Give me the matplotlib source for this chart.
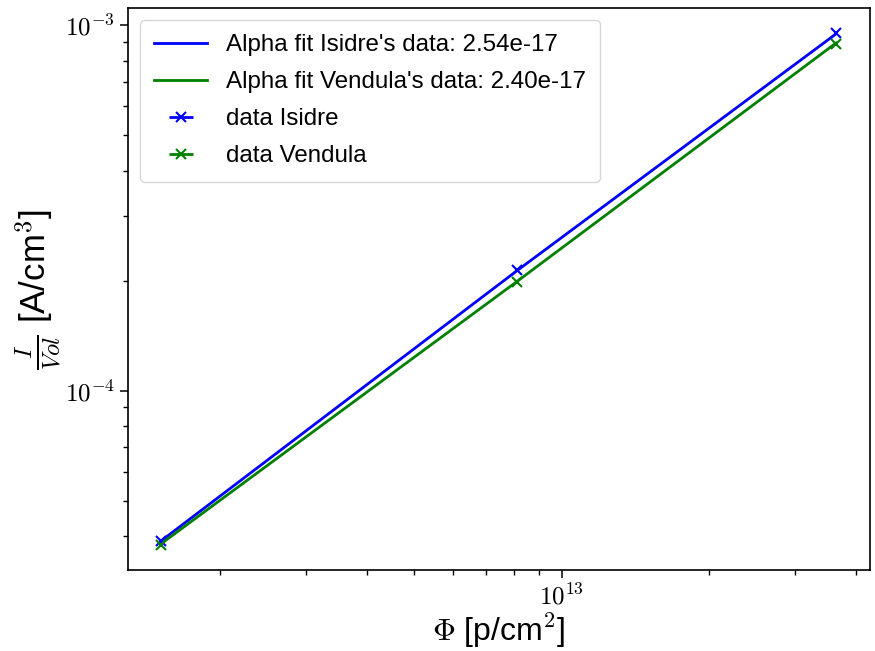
import matplotlib
matplotlib.use("Agg")
import matplotlib.pyplot as plt
from matplotlib.ticker import FuncFormatter, NullFormatter
import numpy as np

# Data
fluence = [1.52e12, 8.1e12, 3.64e13]
data_isidre = [3.89e-5, 2.14e-4, 9.51e-4]
data_vendula = [3.79e-5, 1.98e-4, 8.92e-4]
fit_isidre = [3.89e-5, 2.13e-4, 9.48e-4]
fit_vendula = [3.82e-5, 1.99e-4, 8.95e-4]
alpha_isidre = "2.54e-17"
alpha_vendula = "2.40e-17"

plt.rcParams['font.family'] = ['Liberation Sans', 'DejaVu Sans']
plt.rcParams['mathtext.fontset'] = 'cm'

fig = plt.figure(figsize=(8.75, 6.51), dpi=100)
ax = fig.add_axes([0.146, 0.124, 0.848, 0.864])

ax.plot(fluence, fit_isidre, color='b', lw=2, label="Alpha fit Isidre's data: " + alpha_isidre)
ax.plot(fluence, fit_vendula, color='g', lw=2, label="Alpha fit Vendula's data: " + alpha_vendula)
ax.errorbar(fluence, data_isidre, xerr=[0, 0, 0], fmt='x', color='b', ms=7, mew=1.5,
            elinewidth=2, label="data Isidre")
ax.errorbar(fluence, data_vendula, xerr=[0, 0, 0], fmt='x', color='g', ms=7, mew=1.5,
            elinewidth=2, label="data Vendula")

ax.set_xscale('log')
ax.set_yscale('log')

fmt = FuncFormatter(lambda v, p: r'$10^{%d}$' % int(round(np.log10(v))))
ax.xaxis.set_major_formatter(fmt)
ax.yaxis.set_major_formatter(fmt)
ax.xaxis.set_minor_formatter(NullFormatter())
ax.yaxis.set_minor_formatter(NullFormatter())
ax.tick_params(axis='both', which='major', labelsize=18, length=6, width=1.1)
ax.tick_params(axis='both', which='minor', length=3.5, width=1)

ax.set_xlabel(r'$\Phi$ [p/cm$^2$]', fontsize=23, labelpad=2)
ax.set_ylabel(r'$\frac{I}{Vol}$ [A/cm$^3$]', fontsize=25, labelpad=1)

for s in ax.spines.values():
    s.set_linewidth(1.2)

ax.legend(loc='upper left', fontsize=17.4, handlelength=2.2, labelspacing=0.62,
          handletextpad=0.75, borderaxespad=0.5, borderpad=0.6)

fig.savefig('out.png', dpi=100)
